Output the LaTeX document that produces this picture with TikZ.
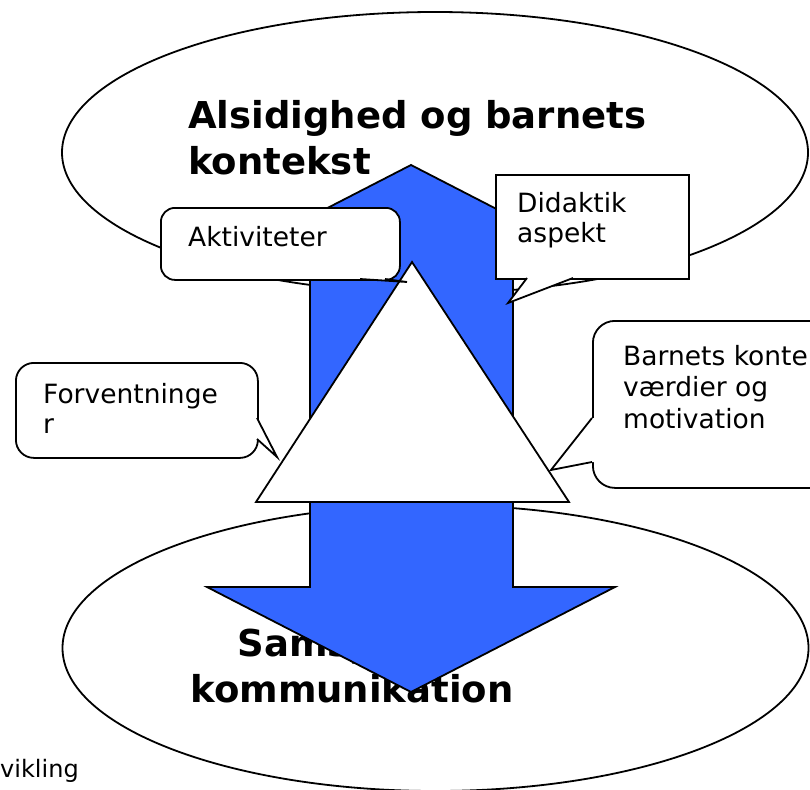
\documentclass[tikz,border=0pt]{standalone}
\usepackage{fontspec}
\setmainfont{DejaVu Sans}
\usepackage{tikz}
\usetikzlibrary{shapes.geometric,calc,positioning}
\usepackage{color}
\definecolor{arrowblue}{RGB}{51,102,255}
\tikzstyle{oval} = [ellipse, draw=black, line width=1.8pt, minimum width=746pt, minimum height=281pt, inner sep=0pt]
\tikzstyle{headline} = [font=\fontsize{37}{46}\selectfont\bfseries, inner sep=0pt]
\tikzstyle{bubble} = [rectangle, rounded corners=14pt, draw=black, fill=white, line width=1.8pt, inner sep=0pt, anchor=north west]
\tikzstyle{box} = [rectangle, draw=black, fill=white, line width=1.8pt, inner sep=0pt, anchor=north west]
\tikzstyle{note} = [font=\fontsize{26.5}{30}\selectfont, inner sep=0pt, align=left, anchor=base west]
\tikzstyle{tail} = [draw=black, line width=1.8pt, line join=miter]

\begin{document}
\begin{tikzpicture}[x=1pt,y=-1pt]
    \useasboundingbox (0,0) rectangle (810,789);

        % the two ovals and their texts (base = last line)
        \node[oval] (Top) at (435,152.5) {};
        \node[oval, minimum height=286pt] (Bottom) at (435.5,648) {};
        \node[headline, anchor=base west, align=left] (TopText) at (188,174) {Alsidighed og barnets\\kontekst};
        \node[headline, anchor=base, align=center] (BottomText) at (352,702) {Samspil og\\kommunikation};

        % double arrow and triangle
        \filldraw[fill=arrowblue, draw=black, line width=1.8pt, line join=miter]
            (411,165) -- (615,270) -- (513,270) -- (513,587) -- (615,587) -- (411,692)
            -- (207,587) -- (310,587) -- (310,270) -- (207,270) -- cycle;
        \filldraw[fill=white, draw=black, line width=1.8pt, line join=miter]
            (256,502) -- (569,502) -- (412,262) -- cycle;

        % callouts
        \node[bubble, minimum width=239pt, minimum height=72pt] (Akt) at (160,207) {};
        \node[note] (AktText) at (188,246) {Aktiviteter};
        \coordinate (AktTip) at (407,282);
        \fill[white] (360,277) -- (360,279) -- (AktTip) -- (385,279) -- (385,277) -- cycle;
        \draw[tail] (360,279) -- (AktTip) -- (385,279);

        \node[box, minimum width=193pt, minimum height=104pt] (Did) at (495,174) {};
        \node[note] (DidText) at (517,242) {Didaktik\\aspekt};
        \coordinate (DidTip) at (508,303);
        \fill[white] (527,276) -- (527,278) -- (DidTip) -- (573,278) -- (573,276) -- cycle;
        \draw[tail] (527,278) -- (DidTip) -- (573,278);

        \node[bubble, rounded corners=18pt, minimum width=242pt, minimum height=95pt] (Forv) at (15,362) {};
        \node[note] (ForvText) at (43,433) {Forventninge\\r};
        \coordinate (ForvTip) at (277,457);
        \fill[white] (255,418) -- (257,418) -- (ForvTip) -- (257,439) -- (255,439) -- cycle;
        \draw[tail] (257,418) -- (ForvTip) -- (257,439);

        \node[bubble, rounded corners=22pt, minimum width=260pt, minimum height=167pt] (Barn) at (592,320) {};
        \node[note, font=\fontsize{26.5}{31.5}\selectfont] (BarnText) at (623,428) {Barnets konte\\værdier og\\motivation};
        \coordinate (BarnTip) at (551,470);
        \fill[white] (594,418) -- (592,418) -- (BarnTip) -- (592,462) -- (594,462) -- cycle;
        \draw[tail] (592,418) -- (BarnTip) -- (592,462);

        \node[note, font=\fontsize{24}{28}\selectfont] (Udv) at (0,777) {vikling};
\end{tikzpicture}
\end{document}
